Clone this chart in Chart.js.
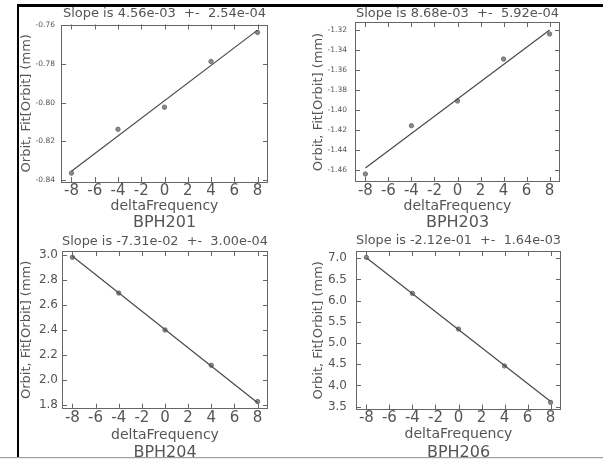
<!DOCTYPE html>
<html><head><meta charset="utf-8">
<script src="https://cdn.jsdelivr.net/npm/chart.js@4"></script>
<style>
html,body{margin:0;padding:0;background:#fff;width:603px;height:459px;overflow:hidden;position:relative}
canvas{position:absolute}
#frame{position:absolute;left:17px;top:4px;width:586px;height:453px;border-top:3px solid #000;border-left:2px solid #000;box-sizing:border-box}
#bottom{position:absolute;left:0;top:457px;width:603px;height:2px;background:#e6ecef;border-top:1px solid #9aa4a8;box-sizing:border-box}
</style></head><body>
<div id="frame"></div><div id="bottom"></div>
<canvas id="c1" width="290" height="231" style="left:18px;top:0px"></canvas>
<canvas id="c2" width="290" height="231" style="left:300px;top:0px"></canvas>
<canvas id="c3" width="290" height="233" style="left:18px;top:228px"></canvas>
<canvas id="c4" width="290" height="233" style="left:300px;top:228px"></canvas>
<script>
// ---- data ----
const freq = [-8, -4, 0, 4, 8];
const fitX = [-8, 8];
const orbit201 = [-0.8364, -0.8137, -0.8023, -0.7786, -0.7636];
const fit201 = [-0.8354, -0.7624];
const orbit203 = [-1.464, -1.4157, -1.391, -1.349, -1.324];
const fit203 = [-1.458, -1.320];
const orbit204 = [2.98, 2.694, 2.399, 2.117, 1.827];
const fit204 = [2.988, 1.818];
const orbit206 = [7.02, 6.17, 5.33, 4.46, 3.60];
const fit206 = [7.012, 3.620];
const xTicks = [-8, -6, -4, -2, 0, 2, 4, 6, 8];
const xRange = [-8.9, 8.9];
const yTicks201 = [-0.84, -0.82, -0.80, -0.78, -0.76];
const yTicks203 = [-1.46, -1.44, -1.42, -1.40, -1.38, -1.36, -1.34, -1.32];
const yTicks204 = [1.8, 2.0, 2.2, 2.4, 2.6, 2.8, 3.0];
const yTicks206 = [3.5, 4.0, 4.5, 5.0, 5.5, 6.0, 6.5, 7.0];
const yRange201 = [-0.841, -0.7595];
const yRange203 = [-1.472, -1.312];
const yRange204 = [1.77, 3.03];
const yRange206 = [3.43, 7.17];
const slopeTitles = [
  'Slope is 4.56e-03  +-  2.54e-04',
  'Slope is 8.68e-03  +-  5.92e-04',
  'Slope is -7.31e-02  +-  3.00e-04',
  'Slope is -2.12e-01  +-  1.64e-03'
];
const bpmNames = ['BPH201', 'BPH203', 'BPH204', 'BPH206'];
const xTitle = 'deltaFrequency';
const yTitle = 'Orbit, Fit[Orbit] (mm)';

const FONT = 'DejaVu Sans';
const TXT = '#555';

const frameTicks = {
  id: 'frameTicks',
  afterDatasetsDraw(chart) {
    const {ctx, chartArea: a, scales: {x, y}} = chart;
    ctx.save();
    ctx.strokeStyle = '#666';
    ctx.lineWidth = 1;
    ctx.strokeRect(Math.round(a.left) + 0.5, Math.round(a.top) + 0.5, Math.round(a.width) - 1, Math.round(a.height) - 1);
    ctx.beginPath();
    x.ticks.forEach(t => {
      const px = Math.round(x.getPixelForValue(t.value)) + 0.5;
      ctx.moveTo(px, a.bottom); ctx.lineTo(px, a.bottom - 5);
      ctx.moveTo(px, a.top); ctx.lineTo(px, a.top + 5);
    });
    y.ticks.forEach(t => {
      const py = Math.round(y.getPixelForValue(t.value)) + 0.5;
      ctx.moveTo(a.left, py); ctx.lineTo(a.left + 5, py);
      ctx.moveTo(a.right, py); ctx.lineTo(a.right - 5, py);
    });
    ctx.stroke();
    ctx.restore();
  }
};

function makeChart(id, cfg) {
  new Chart(document.getElementById(id), {
    type: 'scatter',
    data: {
      datasets: [
        { data: fitX.map((v, i) => ({x: v, y: cfg.fit[i]})), showLine: true, borderColor: '#4a4a4a', borderWidth: 1.2, pointRadius: 0 },
        { data: freq.map((v, i) => ({x: v, y: cfg.orbit[i]})), showLine: false, pointRadius: 2.2, pointStyle: 'circle', backgroundColor: '#888', borderColor: '#777', borderWidth: 1 }
      ]
    },
    options: {
      responsive: false, animation: false, events: [],
      layout: { padding: { left: 0, top: 0, bottom: 0, right: cfg.padRight } },
      plugins: {
        legend: { display: false }, tooltip: { enabled: false },
        title: { display: true, text: cfg.title, fullSize: false, color: TXT,
          font: { family: FONT, size: 13, weight: 'normal', lineHeight: 1.2 },
          padding: { top: cfg.titleTop, bottom: cfg.titleBottom } },
        subtitle: { display: true, position: 'bottom', text: cfg.name, fullSize: false, color: TXT,
          font: { family: FONT, size: 16, weight: 'normal', lineHeight: 1 },
          padding: { top: cfg.nameTop, bottom: 0 } }
      },
      scales: {
        x: {
          type: 'linear', min: xRange[0], max: xRange[1],
          afterBuildTicks: s => { s.ticks = xTicks.map(v => ({value: v})); },
          afterFit: s => { s.height = cfg.xAxisH; },
          grid: { display: false, drawTicks: false }, border: { display: false },
          ticks: { autoSkip: false, maxRotation: 0, padding: 0, color: TXT, font: { family: FONT, size: 15 }, callback: v => String(v) },
          title: { display: true, text: xTitle, color: TXT, font: { family: FONT, size: 14, lineHeight: 1.2 }, padding: { top: 0, bottom: 0 } }
        },
        y: {
          type: 'linear', min: cfg.yRange[0], max: cfg.yRange[1],
          afterBuildTicks: s => { s.ticks = cfg.yTicks.map(v => ({value: v})); },
          afterFit: s => { s.width = cfg.yAxisW; },
          grid: { display: false, drawTicks: false }, border: { display: false },
          ticks: { autoSkip: false, padding: cfg.yPad, color: TXT, font: { family: FONT, size: cfg.yFont }, callback: v => Number(v).toFixed(cfg.dec) },
          title: { display: true, text: yTitle, color: TXT, font: { family: FONT, size: 13, lineHeight: 1.2 }, padding: { top: cfg.yTitlePad, bottom: 0 } }
        }
      }
    },
    plugins: [frameTicks]
  });
}

makeChart('c1', { orbit: orbit201, fit: fit201, yTicks: yTicks201, yRange: yRange201, dec: 2, yFont: 7.5, yPad: 6,
  title: slopeTitles[0], name: bpmNames[0], titleTop: 6.2, titleBottom: 2.7, xAxisH: 33, nameTop: 0,
  yAxisW: 43, yTitlePad: 1.2, padRight: 40 });
makeChart('c2', { orbit: orbit203, fit: fit203, yTicks: yTicks203, yRange: yRange203, dec: 2, yFont: 7.5, yPad: 8,
  title: slopeTitles[1], name: bpmNames[1], titleTop: 6.2, titleBottom: 0.2, xAxisH: 33, nameTop: 0,
  yAxisW: 55, yTitlePad: 11.2, padRight: 30 });
makeChart('c3', { orbit: orbit204, fit: fit204, yTicks: yTicks204, yRange: yRange204, dec: 1, yFont: 12, yPad: 4,
  title: slopeTitles[2], name: bpmNames[2], titleTop: 6.2, titleBottom: 1.2, xAxisH: 35, nameTop: 1.3,
  yAxisW: 44, yTitlePad: 1.2, padRight: 40 });
makeChart('c4', { orbit: orbit206, fit: fit206, yTicks: yTicks206, yRange: yRange206, dec: 1, yFont: 12, yPad: 9,
  title: slopeTitles[3], name: bpmNames[3], titleTop: 4.7, titleBottom: 2.7, xAxisH: 33.4, nameTop: 2,
  yAxisW: 56, yTitlePad: 10.7, padRight: 29 });
</script>
</body></html>
